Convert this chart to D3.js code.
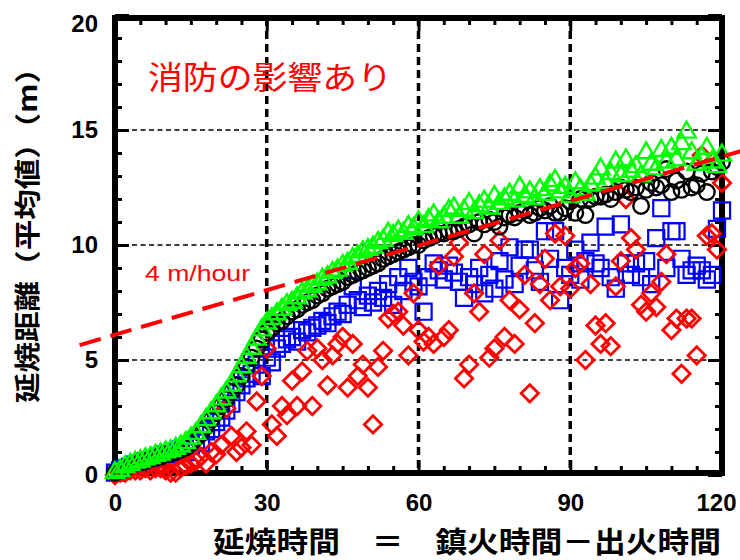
<!DOCTYPE html>
<html>
<head>
<meta charset="utf-8">
<script src="https://d3js.org/d3.v7.min.js"></script>
<style>
  body { margin: 0; background: #fff; }
  svg { display: block; }
  .axis text { font-family: "Liberation Sans", Arial, sans-serif; font-weight: bold; font-size: 24px; fill: #000; }
  .jp { font-family: "Noto Sans CJK JP", sans-serif; }
</style>
</head>
<body>
<svg width="740" height="560"></svg>
<script>
// one value per minute (index = minute 0..120)
var blackCircle = [
 0.1,0.2,0.3,0.4,0.5,0.55,0.6,0.7,0.75,0.8, 0.9,0.95,1.0,1.1,1.2,1.4,1.6,1.8,2.1,2.4,
 2.7,3.0,3.3,3.6,3.9,4.3,4.7,5.1,5.5,5.9, 6.2,6.4,6.6,6.7,6.9,7.1,7.2,7.4,7.5,7.6,
 7.8,7.9,8.1,8.2,8.3,8.4,8.6,8.7,8.8,8.9, 9.0,9.1,9.2,9.4,9.5,9.6,9.7,9.8,9.9,10.0,
 10.0,10.2,10.3,10.4,10.5,10.5,10.6,10.6,10.7,10.8, 10.9,10.5,11.0,10.9,11.1,11.0,10.8,11.2,11.3,11.2,
 11.4,11.5,11.3,11.4,11.6,11.5,11.7,11.4,11.4,11.6, 11.9,11.4,12.0,11.3,12.0,12.1,12.1,12.2,12.0,12.3,
 12.5,12.4,12.3,12.5,11.7,12.4,12.7,12.5,12.6,13.3, 12.3,12.8,12.4,13.2,12.5,12.6,13.1,12.3,13.2,13.4,
 13.6];
var greenTriangle = [
 0.1,0.2,0.35,0.45,0.55,0.6,0.7,0.75,0.85,0.9, 1.0,1.05,1.15,1.25,1.4,1.6,1.8,2.1,2.4,2.7,
 3.0,3.3,3.6,3.9,4.3,4.7,5.1,5.5,5.9,6.3, 6.6,6.8,7.0,7.2,7.4,7.5,7.7,7.9,8.0,8.2,
 8.3,8.5,8.6,8.8,8.9,9.1,9.2,9.4,9.5,9.7, 9.8,9.9,10.1,10.2,10.5,10.4,10.6,10.5,10.8,10.7,
 11.0,10.8,11.1,11.3,11.0,11.2,11.5,11.6,11.2,11.5, 11.8,11.4,11.7,11.9,11.6,12.1,11.8,12.0,12.2,11.9,
 12.5,12.1,12.3,12.0,12.4,12.2,12.6,12.8,12.3,12.5, 12.1,12.7,12.4,12.2,12.6,12.9,13.3,12.7,13.1,13.6,
 13.0,13.7,13.2,13.4,13.0,14.0,13.5,13.3,14.1,13.6, 14.2,13.7,14.4,14.9,14.0,13.5,13.8,14.2,13.6,13.4,
 13.9];
var blueSquare = [
 0.1,0.2,0.3,0.35,0.45,0.5,0.6,0.6,0.7,0.8, 0.9,0.9,1.0,1.1,1.0,1.3,1.5,1.4,1.9,2.0,
 2.3,2.5,2.8,3.1,3.6,3.9,4.2,4.4,4.8,4.3, 5.1,4.9,5.5,5.7,5.9,6.0,5.8,6.3,6.2,6.4,
 6.5,6.7,6.6,6.9,7.1,7.0,7.4,8.2,7.6,7.3, 7.8,7.5,8.0,7.7,8.3,7.4,8.6,8.0,9.0,8.4,
 8.2,7.1,8.6,9.2,8.9,8.5,9.1,8.8,8.4,7.7, 8.6,8.3,9.0,7.9,8.7,8.1,9.3,8.5,9.9,8.3,
 9.1,9.8,9.8,8.9,8.4,10.6,9.4,10.6,7.6,9.0, 8.7,9.8,8.5,9.3,10.1,9.2,9.0,10.8,8.6,8.1,
 10.9,9.2,8.7,9.2,8.6,9.3,8.3,10.3,11.6,9.0, 10.6,10.6,9.4,8.7,8.9,9.1,8.9,8.5,8.7,10.7,
 11.5];
var redDiamond = [
 0.0,0.1,0.1,0.2,0.2,0.2,0.3,0.2,0.3,0.3, 0.2,0.1,0.1,0.3,0.4,0.5,0.6,0.8,0.5,1.0,
 0.9,1.3,2.9,1.7,1.0,1.2,1.9,1.3,3.2,4.3, 5.5,2.2,1.7,3.0,2.6,4.1,3.0,4.5,5.4,3.0,
 5.5,5.0,3.9,5.2,5.7,6.0,3.8,5.7,4.3,4.8, 3.8,2.2,4.7,5.4,6.8,7.0,7.1,6.5,5.2,7.9,
 6.3,5.8,6.0,5.7,9.1,6.0,6.3,9.5,10.1,4.2, 4.8,7.9,7.1,9.6,5.1,5.5,10.2,6.0,7.6,5.7,
 7.2,8.7,3.55,6.6,8.3,9.4,7.6,10.5,8.2,10.4, 8.1,9.0,9.2,5.0,8.3,6.5,5.7,6.6,5.6,8.2,
 9.3,12.0,10.3,9.8,7.4,7.1,7.9,7.3,8.4,9.6, 6.3,6.8,4.4,6.8,6.8,5.2,13.9,10.4,10.5,9.8,
 12.7];

// fitted line "4 m/hour": end points (minute, metres)
var trendX = [-7, 124];
var trendY = [5.65, 14.1];

var xMajor = [0, 30, 60, 90, 120];
var xMinor = [5,10,15,20,25,35,40,45,50,55,65,70,75,80,85,95,100,105,110,115];
var yMajor = [0, 5, 10, 15, 20];
var yMinor = [1,2,3,4,6,7,8,9,11,12,13,14,16,17,18,19];
var xGrid = [30, 60, 90];
var yGrid = [5, 10, 15];

var svg = d3.select("svg");
var x = d3.scaleLinear().domain([0, 120]).range([115, 722]);
var y = d3.scaleLinear().domain([0, 20]).range([475, 15]);

// grid
svg.append("g").selectAll("line").data(xGrid).enter().append("line")
  .attr("x1", d => x(d)).attr("x2", d => x(d))
  .attr("y1", 18).attr("y2", 473)
  .attr("stroke", "#000").attr("stroke-width", 3.5).attr("stroke-dasharray", "8,5");
svg.append("g").selectAll("line").data(yGrid).enter().append("line")
  .attr("x1", 115).attr("x2", 722)
  .attr("y1", d => y(d)).attr("y2", d => y(d))
  .attr("stroke", "#000").attr("stroke-width", 1.5).attr("stroke-dasharray", "5,3.5");

// ticks (inward) on all four sides
function ticks(axis, tr) {
  var g = svg.append("g").attr("class", "axis").attr("transform", tr).call(axis);
  g.select(".domain").remove();
  g.selectAll("line").attr("stroke", "#000").attr("stroke-width", 3);
  return g;
}
ticks(d3.axisBottom(x).tickValues(xMinor).tickSize(-7).tickFormat(""), "translate(0,473)");
ticks(d3.axisTop(x).tickValues(xMinor).tickSize(-7).tickFormat(""), "translate(0,18)");
ticks(d3.axisTop(x).tickValues(xMajor).tickSize(-13).tickFormat(""), "translate(0,18)");
ticks(d3.axisLeft(y).tickValues(yMinor).tickSize(-7).tickFormat(""), "translate(115,0)");
ticks(d3.axisRight(y).tickValues(yMinor).tickSize(-7).tickFormat(""), "translate(722,0)");
ticks(d3.axisRight(y).tickValues(yMajor).tickSize(-14).tickFormat(""), "translate(722,0)");
var lx = ticks(d3.axisBottom(x).tickValues(xMajor).tickSize(-13).tickPadding(21), "translate(0,473)");
lx.selectAll("text").attr("dx", d => d === 120 ? -6 : 0);
var ly = ticks(d3.axisLeft(y).tickValues(yMajor).tickSize(-14).tickPadding(17), "translate(115,0)");
ly.selectAll("text").attr("dy", d => d === 20 ? "0.7em" : "0.32em");

// frame
svg.append("rect").attr("x", 115).attr("y", 18).attr("width", 607).attr("height", 455)
  .attr("fill", "none").attr("stroke", "#000").attr("stroke-width", 6);

// markers
var marks = svg.append("g").attr("fill", "none");
marks.selectAll(".sq").data(blueSquare).enter().append("path")
  .attr("d", d3.symbol(d3.symbolSquare, 260))
  .attr("transform", (d, i) => "translate(" + x(i) + "," + y(d) + ")")
  .attr("stroke", "#0000ff").attr("stroke-width", 2.2);
marks.selectAll(".dm").data(redDiamond).enter().append("path")
  .attr("d", d3.symbol(d3.symbolSquare, 150))
  .attr("transform", (d, i) => "translate(" + x(i) + "," + y(d) + ") rotate(45)")
  .attr("stroke", "#ff0000").attr("stroke-width", 2.8);
marks.selectAll(".ci").data(blackCircle).enter().append("circle")
  .attr("cx", (d, i) => x(i)).attr("cy", d => y(d)).attr("r", 7.8)
  .attr("stroke", "#000").attr("stroke-width", 2.4);
marks.selectAll(".tr").data(greenTriangle).enter().append("path")
  .attr("d", d3.symbol(d3.symbolTriangle, 145))
  .attr("transform", (d, i) => "translate(" + x(i) + "," + y(d) + ")")
  .attr("stroke", "#00ff00").attr("stroke-width", 2.4);

// 4 m/hour line
svg.append("line")
  .attr("x1", x(trendX[0])).attr("y1", y(trendY[0]))
  .attr("x2", x(trendX[1])).attr("y2", y(trendY[1]))
  .attr("stroke", "#ff0000").attr("stroke-width", 4).attr("stroke-dasharray", "22,10");

// texts
svg.append("text").attr("class", "jp").attr("x", 148).attr("y", 89)
  .attr("textLength", 244).attr("lengthAdjust", "spacingAndGlyphs")
  .attr("fill", "#ff0000").style("font-size", "32px").text("消防の影響あり");
svg.append("text").attr("x", 145).attr("y", 281)
  .attr("textLength", 105).attr("lengthAdjust", "spacingAndGlyphs")
  .style("font-family", "Liberation Sans, Arial, sans-serif").style("font-size", "22px")
  .attr("fill", "#ff0000").text("4 m/hour");

svg.append("text").attr("class", "jp")
  .attr("transform", "translate(37,228) rotate(-90)")
  .attr("text-anchor", "middle")
  .attr("textLength", 350).attr("lengthAdjust", "spacingAndGlyphs")
  .style("font-size", "26px").style("font-weight", "bold").text("延焼距離（平均値）（m）");
svg.append("text").attr("class", "jp")
  .attr("x", 213).attr("y", 553)
  .attr("textLength", 508).attr("lengthAdjust", "spacingAndGlyphs")
  .style("font-size", "29px").style("font-weight", "bold").text("延焼時間　＝　鎮火時間－出火時間");
</script>
</body>
</html>
